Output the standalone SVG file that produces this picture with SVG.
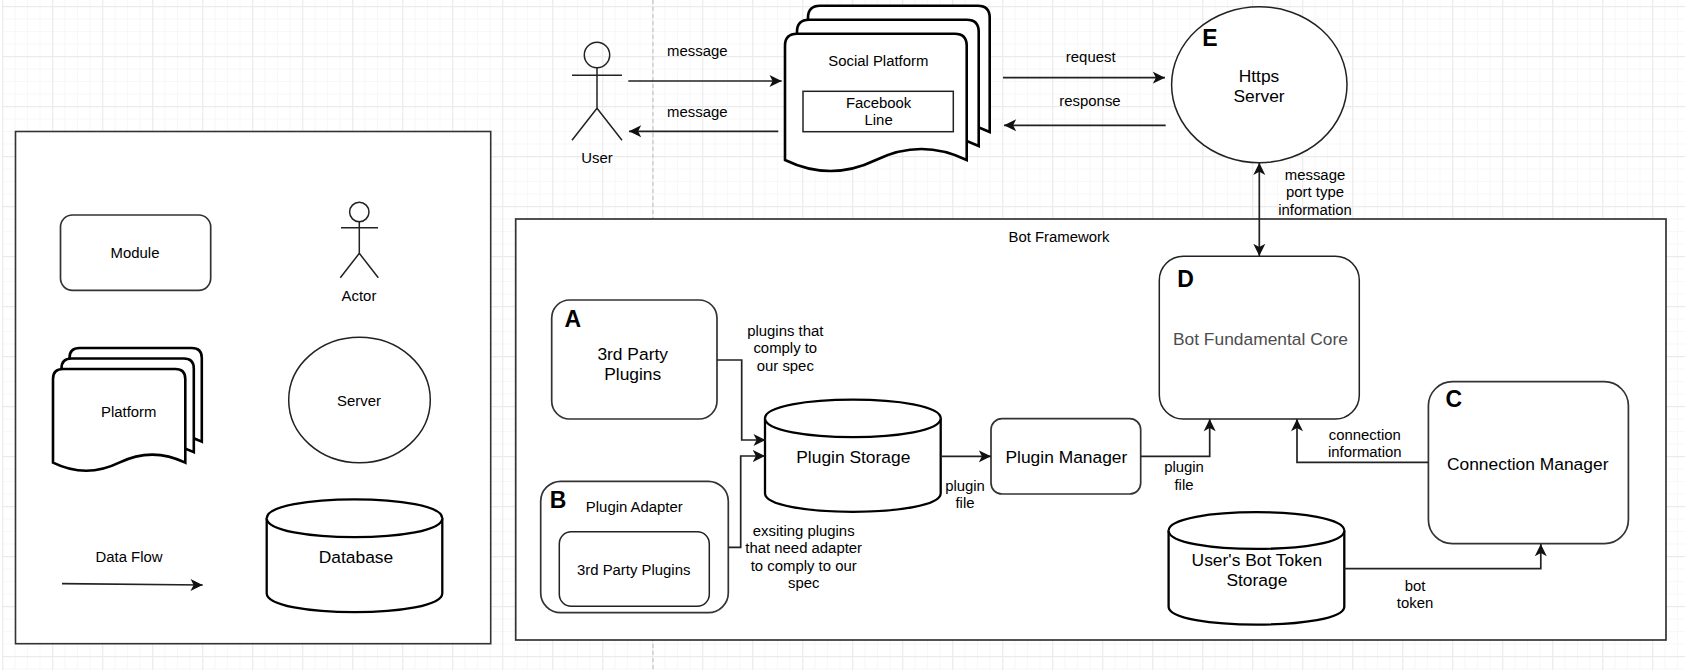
<svg xmlns="http://www.w3.org/2000/svg" xmlns:xlink="http://www.w3.org/1999/xlink" width="1685" height="670" viewBox="0 0 1685 670">
<style>
text{font-family:"Liberation Sans",Arial,sans-serif;fill:#000;text-anchor:middle;dominant-baseline:central}
.s{font-size:14.9px}
.l{font-size:17.4px}
.b{font-size:23px;font-weight:bold}
.box{fill:#fff;stroke:#333;stroke-width:1.7}
.thin{fill:#fff;stroke:#222;stroke-width:1.5}
.thick{fill:#fff;stroke:#000;stroke-width:2.6}
.cyl{fill:#fff;stroke:#000;stroke-width:2.3}
.fig{fill:none;stroke:#222;stroke-width:1.5}
.con{fill:none;stroke:#222;stroke-width:1.7}
.arr{marker-end:url(#ah)}
</style>
<defs>
<pattern id="grid" patternUnits="userSpaceOnUse" x="2" y="6" width="50" height="50">
<path d="M13,0V50M25.5,0V50M38,0V50M0,13H50M0,25.5H50M0,38H50" fill="none" stroke="#f8f8f8" stroke-width="1.2"/>
<path d="M0.7,0V50M0,0.7H50" fill="none" stroke="#ebebeb" stroke-width="1.2"/>
</pattern>
<marker id="ah" markerUnits="userSpaceOnUse" markerWidth="15" markerHeight="15" refX="12.5" refY="6.5" orient="auto-start-reverse" viewBox="0 0 15 13">
<path d="M0.3,0.5L12.5,6.5L0.3,12.5L3.4,6.5z" fill="#111"/>
</marker>
<path id="docL" d="M0,126.3V12Q0,0 12,0H169.7Q181.7,0 181.7,12V126.3Q136.3,104.3 90.9,126.3T0,126.3z"/>
<path id="docS" d="M0,93.7V10Q0,0 10,0H122.3Q132.3,0 132.3,10V93.7Q99.2,77.5 66.2,93.7T0,93.7z"/>
</defs>
<rect width="1685" height="670" fill="#fff"/>
<rect x="2" y="0" width="1683" height="670" fill="url(#grid)"/>
<line x1="653" y1="0" x2="653" y2="670" stroke="#ccc" stroke-width="1.4" stroke-dasharray="4 3"/>

<g id="legend">
<rect x="15.5" y="131.5" width="475.2" height="512.2" fill="#fff" stroke="#333" stroke-width="1.6"/>
</g>
<g id="legend-module">
<rect class="box" x="60.5" y="215" width="150.2" height="75.3" rx="12"/>
<text class="s" x="135" y="252.5">Module</text>
</g>
<g id="legend-actor">
<circle class="fig" cx="359.3" cy="212" r="9.7"/>
<path class="fig" d="M341,227.7H378M359.3,221.7V253.3M340.3,277.7L359.3,253.3L378.3,277.7"/>
<text class="s" x="359" y="296">Actor</text>
</g>
<g id="legend-platform">
<use href="#docS" class="thick" x="69.5" y="348"/>
<use href="#docS" class="thick" x="61.5" y="358.5"/>
<use href="#docS" class="thick" x="53" y="369"/>
<text class="s" x="128.7" y="411.7">Platform</text>
</g>
<g id="legend-server">
<ellipse class="thin" cx="359.5" cy="400" rx="70.8" ry="62.7"/>
<text class="s" x="359" y="400.7">Server</text>
</g>
<g id="legend-database">
<path class="cyl" d="M266.7,518.3C266.7,493 442.3,493 442.3,518.3V593.3C442.3,618.5 266.7,618.5 266.7,593.3z"/>
<path class="cyl" d="M266.7,518.3C266.7,543.5 442.3,543.5 442.3,518.3"/>
<text class="l" x="356" y="556.7">Database</text>
</g>
<g id="legend-flow">
<text class="s" x="129" y="556.7">Data Flow</text>
</g>

<g id="bot-framework">
<rect x="515.7" y="219" width="1150.3" height="421" fill="#fff" stroke="#333" stroke-width="1.7"/>
<text class="s" x="1059" y="236.7">Bot Framework</text>
</g>

<g id="user">
<circle class="fig" cx="597" cy="55" r="12.7"/>
<path class="fig" d="M572,75.3H622M597,67.7V108.3M572,140.3L597,108.3L622,140.3"/>
<text class="s" x="597" y="157.7">User</text>
</g>
<g id="social-platform">
<use href="#docL" class="thick" x="808" y="5.7"/>
<use href="#docL" class="thick" x="797" y="19.7"/>
<use href="#docL" class="thick" x="785" y="33.7"/>
<text class="s" x="878.3" y="60.7">Social Platform</text>
<rect class="thin" x="803" y="91.3" width="150.3" height="40.4"/>
<text class="s" x="878.6" y="102.7">Facebook</text>
<text class="s" x="878.6" y="120.3">Line</text>
</g>
<g id="https-server">
<ellipse class="thin" cx="1259.3" cy="84.7" rx="87.7" ry="78"/>
<text class="b" x="1210" y="37.7">E</text>
<text class="l" x="1259" y="76">Https</text>
<text class="l" x="1259" y="95.7">Server</text>
</g>
<g id="third-party-plugins">
<rect class="box" x="551.7" y="300" width="165.3" height="119" rx="18"/>
<text class="b" x="572.7" y="318.7">A</text>
<text class="l" x="632.7" y="354">3rd Party</text>
<text class="l" x="632.7" y="374">Plugins</text>
</g>
<g id="plugin-adapter">
<rect class="box" x="540.7" y="481.3" width="187.6" height="131.4" rx="20"/>
<text class="b" x="558" y="500">B</text>
<text class="s" x="634.3" y="507">Plugin Adapter</text>
<rect class="thin" x="559.3" y="531.7" width="150" height="74.6" rx="12"/>
<text class="s" x="633.7" y="570">3rd Party Plugins</text>
</g>
<g id="plugin-storage">
<path class="cyl" d="M765,418.3C765,393.5 940.7,393.5 940.7,418.3V493.3C940.7,518 765,518 765,493.3z"/>
<path class="cyl" d="M765,418.3C765,443.3 940.7,443.3 940.7,418.3"/>
<text class="l" x="853.3" y="457">Plugin Storage</text>
</g>
<g id="plugin-manager">
<rect class="box" x="991" y="418.7" width="149.7" height="75.3" rx="11"/>
<text class="l" x="1066.4" y="457">Plugin Manager</text>
</g>
<g id="core">
<rect class="thin" x="1159.3" y="256.3" width="200" height="162.7" rx="24"/>
<text class="b" x="1185.5" y="278.5">D</text>
<text class="l" x="1260.4" y="338.7" style="fill:#4d4d4d">Bot Fundamental Core</text>
</g>
<g id="connection-manager">
<rect class="box" x="1428.4" y="381.7" width="200" height="162" rx="24"/>
<text class="b" x="1453.7" y="398.7">C</text>
<text class="l" x="1527.7" y="464">Connection Manager</text>
</g>
<g id="token-storage">
<path class="cyl" d="M1168.6,530.7C1168.6,506 1344.3,506 1344.3,530.7V606.7C1344.3,630.5 1168.6,630.5 1168.6,606.7z"/>
<path class="cyl" d="M1168.6,530.7C1168.6,555 1344.3,555 1344.3,530.7"/>
<text class="l" x="1256.9" y="560">User's Bot Token</text>
<text class="l" x="1256.9" y="580">Storage</text>
</g>

<g id="connectors">
<path class="con arr" d="M62,583.7L202.7,585"/>
<path class="con arr" d="M628.3,81H781.7"/>
<path class="con arr" d="M778.3,131.3H629"/>
<path class="con arr" d="M1003,77.7H1165"/>
<path class="con arr" d="M1165.7,125.3H1004"/>
<path class="con arr" style="marker-start:url(#ah)" d="M1259.3,162.7V256"/>
<path class="con arr" d="M717,360H741.7V440H765.7"/>
<path class="con arr" d="M728.3,547.3H740.7V456H765"/>
<path class="con arr" d="M940.7,456.3H991"/>
<path class="con arr" d="M1140.7,456.3H1209.7V419"/>
<path class="con arr" d="M1428.4,462.3H1297V419"/>
<path class="con arr" d="M1344.3,568.7H1540.8V544"/>
</g>
<g id="connector-labels">
<text class="s" x="697.3" y="51">message</text>
<text class="s" x="697.3" y="112">message</text>
<text class="s" x="1090.7" y="57">request</text>
<text class="s" x="1090" y="101.3">response</text>
<text class="s" x="1315" y="175.3">message</text>
<text class="s" x="1315" y="192.3">port type</text>
<text class="s" x="1315" y="210">information</text>
<text class="s" x="785.3" y="331">plugins that</text>
<text class="s" x="785.3" y="348.3">comply to</text>
<text class="s" x="785.3" y="366.3">our spec</text>
<text class="s" x="803.7" y="531.3">exsiting plugins</text>
<text class="s" x="803.7" y="548">that need adapter</text>
<text class="s" x="803.7" y="566">to comply to our</text>
<text class="s" x="803.7" y="583">spec</text>
<text class="s" x="965" y="486">plugin</text>
<text class="s" x="965" y="502.7">file</text>
<text class="s" x="1184" y="467.3">plugin</text>
<text class="s" x="1184" y="485">file</text>
<text class="s" x="1364.8" y="435.3">connection</text>
<text class="s" x="1364.8" y="452">information</text>
<text class="s" x="1415" y="586.3">bot</text>
<text class="s" x="1415" y="603">token</text>
</g>
</svg>
